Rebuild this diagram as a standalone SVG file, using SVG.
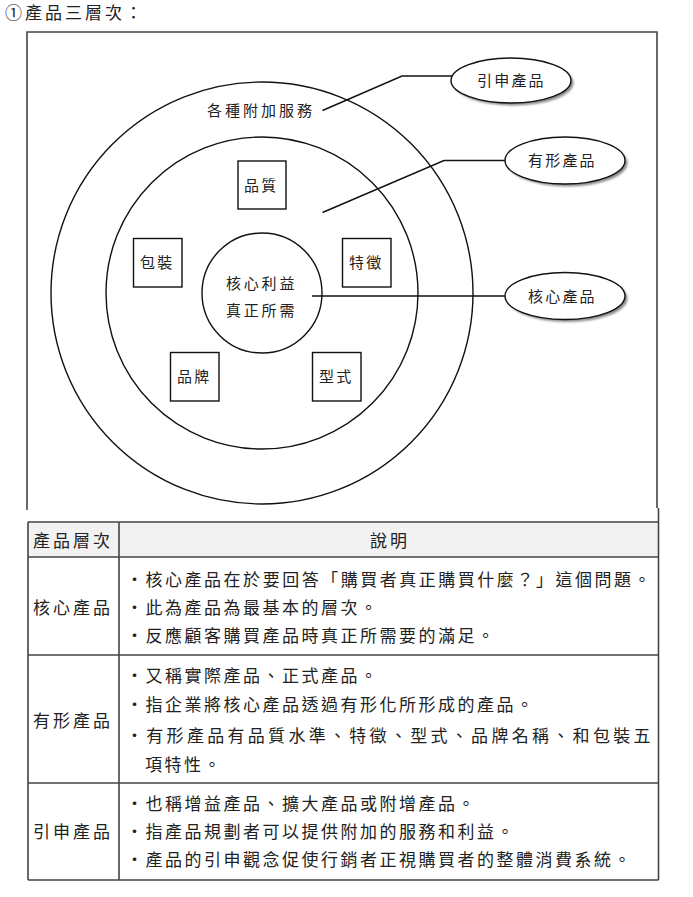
<svg xmlns="http://www.w3.org/2000/svg" width="693" height="897" viewBox="0 0 693 897">
<style>
text{font-family:"Noto Sans CJK TC","Noto Sans CJK SC",sans-serif;fill:#222}
.t17{font-size:17px;letter-spacing:2.5px}
.t15{font-size:15px;letter-spacing:2.2px}
.ln{stroke:#111;stroke-width:1.4;fill:none}
.fr{stroke:#444;stroke-width:1.6;fill:none}
.box{fill:#fff;stroke:#111;stroke-width:1.4}
.ell{fill:#fff;stroke:#111;stroke-width:1.4}
.sh{fill:#8a8a8a}
</style>
<defs>
<filter id="blur" x="-20%" y="-20%" width="140%" height="140%"><feGaussianBlur stdDeviation="1"/></filter>
</defs>
<rect width="693" height="897" fill="#fff"/>
<text id="title" x="5" y="19" style="font-size:17px;letter-spacing:3px">①產品三層次：</text>

<g id="frame">
<path class="fr" d="M27 510 V32 H657 V508"/>
</g>

<g id="circles">
<circle id="outer" class="ln" cx="262" cy="293" r="211"/>
<circle id="middle" class="ln" cx="262" cy="293" r="156"/>
</g>

<g id="connectors">
<polyline class="ln" points="322.5,110.5 402,76 452,76"/>
<polyline class="ln" points="322.5,212.5 444,160.5 505,160.5"/>
<line class="ln" x1="312" y1="296" x2="505" y2="296"/>
</g>

<g id="core">
<circle class="ln" cx="262" cy="293" r="60" fill="#fff"/>
<text class="t15" x="226" y="288.5" style="letter-spacing:2.8px">核心利益</text>
<text class="t15" x="226" y="315.5" style="letter-spacing:2.8px">真正所需</text>
</g>

<g id="services"><text class="t15" x="207" y="115.5" style="letter-spacing:3px">各種附加服務</text></g>

<g id="quality"><rect class="box" x="238" y="161" width="48" height="48"/><text class="t15" x="244" y="190.5">品質</text></g>
<g id="packaging"><rect class="box" x="133.5" y="238.5" width="48.5" height="48.5"/><text class="t15" x="140" y="268">包裝</text></g>
<g id="feature"><rect class="box" x="342.5" y="238.5" width="48.5" height="48.5"/><text class="t15" x="349" y="268">特徵</text></g>
<g id="brand"><rect class="box" x="170.5" y="352.5" width="48.5" height="48.5"/><text class="t15" x="177" y="382">品牌</text></g>
<g id="style"><rect class="box" x="312.5" y="352.5" width="48.5" height="48.5"/><text class="t15" x="319" y="382">型式</text></g>

<g id="augmented">
<ellipse class="sh" cx="513.5" cy="83" rx="60" ry="22.5" filter="url(#blur)"/>
<ellipse class="ell" cx="511" cy="80.5" rx="60" ry="22.5"/>
<text class="t15" x="477" y="86">引申產品</text>
</g>
<g id="actual">
<ellipse class="sh" cx="567.5" cy="163" rx="60" ry="23.5" filter="url(#blur)"/>
<ellipse class="ell" cx="565" cy="160.5" rx="60" ry="23.5"/>
<text class="t15" x="528" y="166">有形產品</text>
</g>
<g id="coreproduct">
<ellipse class="sh" cx="567.5" cy="298.5" rx="60" ry="23.5" filter="url(#blur)"/>
<ellipse class="ell" cx="565" cy="296" rx="60" ry="23.5"/>
<text class="t15" x="528" y="301.5">核心產品</text>
</g>

<g id="table">
<rect x="28" y="522" width="630.5" height="35" fill="#f2f2f2"/>
<path class="fr" d="M28 522 H658.5 M28 557 H658.5 M28 655 H658.5 M28 783 H658.5 M28 880 H658.5 M28 522 V880 M119 522 V880 M658.5 508 V880"/>
<text class="t17" x="33" y="546.5" style="letter-spacing:3px">產品層次</text>
<text class="t17" x="370" y="546.5" style="letter-spacing:3px">說明</text>

<text class="t17" x="33" y="613.5" style="letter-spacing:3px">核心產品</text>
<text class="t17" x="126" y="585.5" textLength="527" lengthAdjust="spacing">・核心產品在於要回答「購買者真正購買什麼？」這個問題。</text>
<text class="t17" x="126" y="613.5">・此為產品為最基本的層次。</text>
<text class="t17" x="126" y="641.5">・反應顧客購買產品時真正所需要的滿足。</text>

<text class="t17" x="33" y="726.5" style="letter-spacing:3px">有形產品</text>
<text class="t17" x="126" y="681.5">・又稱實際產品、正式產品。</text>
<text class="t17" x="126" y="710.5">・指企業將核心產品透過有形化所形成的產品。</text>
<text class="t17" x="126" y="741.5" textLength="527" lengthAdjust="spacing">・有形產品有品質水準、特徵、型式、品牌名稱、和包裝五</text>
<text class="t17" x="145" y="770.5">項特性。</text>

<text class="t17" x="33" y="837.5" style="letter-spacing:3px">引申產品</text>
<text class="t17" x="126" y="809.5">・也稱增益產品、擴大產品或附增產品。</text>
<text class="t17" x="126" y="837.5">・指產品規劃者可以提供附加的服務和利益。</text>
<text class="t17" x="126" y="865.5">・產品的引申觀念促使行銷者正視購買者的整體消費系統。</text>
</g>
</svg>
